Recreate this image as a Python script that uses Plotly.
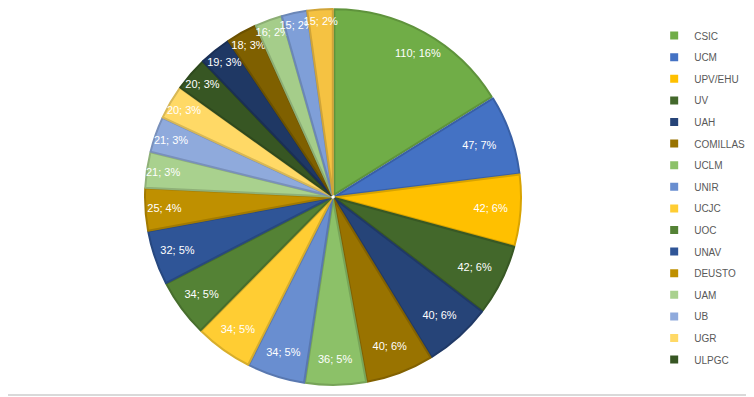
import math
import plotly.graph_objects as go

labels = ["CSIC", "UCM", "UPV/EHU", "UV", "UAH", "COMILLAS", "UCLM", "UNIR",
          "UCJC", "UOC", "UNAV", "DEUSTO", "UAM", "UB", "UGR", "ULPGC",
          "Otra 1", "Otra 2", "Otra 3", "Otra 4", "Otra 5"]
values = [110, 47, 42, 42, 40, 40, 36, 34, 34, 34, 32, 25, 21, 21, 20, 20,
          19, 18, 16, 15, 15]
colors = ["#70AD47", "#4472C4", "#FFC000", "#43682B", "#264478", "#997300",
          "#8CC168", "#698ED0", "#FFCD33", "#548235", "#2F5597", "#BF9000",
          "#A9D18E", "#8FAADC", "#FFD966", "#375623",
          "#1F3864", "#7F6000", "#A5CD8A", "#7F9FD8", "#F5C242"]
legend_count = 16

W, H = 754, 397
dom_x = [(325 - 188) / W, (325 + 188) / W]
dom_y = [(208 - 188) / H, (208 + 188) / H]
FONT = "Liberation Sans, Arial, sans-serif"


def darker(hex_color, f=0.85):
    h = hex_color.lstrip("#")
    r, g, b = (int(h[i:i + 2], 16) for i in (0, 2, 4))
    return "rgb(%d,%d,%d)" % (r * f, g * f, b * f)


total = sum(values)
templates = ["%{value}; %{percent:.0%}"] * len(values)
templates[0] = ""  # largest slice label is placed near its outer edge below

fig = go.Figure()
fig.add_trace(go.Pie(
    labels=labels, values=values, sort=False, direction="clockwise",
    rotation=0, showlegend=False,
    marker=dict(colors=colors, line=dict(color=[darker(c) for c in colors], width=2)),
    pull=0.015,
    texttemplate=templates,
    textposition="inside", insidetextorientation="horizontal",
    textfont=dict(family=FONT, size=11, color="white"),
    domain=dict(x=dom_x, y=dom_y),
    hoverinfo="label+value+percent",
))

# label of the largest slice, near its outer edge along its mid-angle
mid = math.pi * values[0] / total
cx = (dom_x[0] + dom_x[1]) / 2 * W
cy = (dom_y[0] + dom_y[1]) / 2 * H
rad = 0.94 * min((dom_x[1] - dom_x[0]) * W, (dom_y[1] - dom_y[0]) * H) / 2 / 1.015
fig.add_annotation(
    x=(cx + rad * math.sin(mid)) / W, y=(cy + rad * math.cos(mid)) / H,
    xref="paper", yref="paper", showarrow=False,
    text="%d; %d%%" % (values[0], round(100 * values[0] / total)),
    font=dict(family=FONT, size=11, color="white"),
)

for i in range(legend_count):
    fig.add_trace(go.Scatter(
        x=[None], y=[None], mode="markers", name=labels[i],
        marker=dict(symbol="square", size=8, color=colors[i]),
        legendgroup=labels[i], showlegend=True,
    ))

fig.update_layout(
    width=W, height=H,
    margin=dict(l=0, r=0, t=0, b=0, autoexpand=False),
    paper_bgcolor="white", plot_bgcolor="white",
    xaxis=dict(visible=False), yaxis=dict(visible=False),
    uniformtext=dict(minsize=11, mode="show"),
    legend=dict(x=0.857, y=0.967, xanchor="left", yanchor="top",
                font=dict(family=FONT, size=10, color="#595959"),
                tracegroupgap=2.6, itemwidth=30, bgcolor="rgba(0,0,0,0)"),
    shapes=[dict(type="line", xref="paper", yref="paper", x0=-0.02, x1=1.02,
                 y0=10 / H, y1=10 / H, line=dict(color="#D9D9D9", width=2))],
)

fig.write_html("out.html")
